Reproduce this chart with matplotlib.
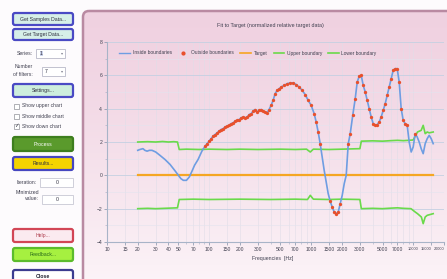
import numpy as np
import matplotlib
matplotlib.use("Agg")
import matplotlib.pyplot as plt
from matplotlib.patches import FancyBboxPatch, Rectangle
from matplotlib.lines import Line2D
from matplotlib.ticker import LogLocator, NullFormatter

plt.rcParams['font.family'] = ['Liberation Sans', 'DejaVu Sans']

# ---------------- data ----------------
freq = [20, 21, 22.5, 23.5, 24.7, 26, 27.6, 30, 33, 37, 41.5, 46, 50, 53, 56, 60, 64, 68, 72, 78,
        85, 91.4, 95.5, 100, 104.6, 109.4, 114.5, 119.8, 125.3, 131, 137, 143.5, 150, 157, 164,
        172, 180, 188, 197, 206, 215, 225, 236, 247, 258, 270, 282, 295, 309, 323, 338, 354, 370,
        387, 405, 424, 443, 464, 485, 508, 543, 582, 622, 666, 712, 762, 816, 873, 934, 1000,
        1070, 1119, 1171, 1225, 1281, 1341, 1403, 1468, 1535, 1606, 1680, 1758, 1840, 1924, 2014,
        2107, 2204, 2307, 2413, 2553, 2700, 2825, 2955, 3090, 3234, 3383, 3538, 3701, 3872, 4050,
        4237, 4433, 4637, 4851, 5075, 5309, 5554, 5810, 6078, 6358, 6652, 6959, 7280, 7615, 7966,
        8334, 8718, 9121, 9542, 9982, 10443, 10925, 11429, 11957, 12508, 13086, 13690, 14322,
        14983, 15675]
response = [1.5, 1.55, 1.6, 1.5, 1.45, 1.5, 1.5, 1.4, 1.2, 0.95, 0.65, 0.3, 0.0, -0.2, -0.3, -0.3,
            -0.1, 0.25, 0.6, 0.95, 1.45, 1.75, 1.9, 2.05, 2.2, 2.35, 2.45, 2.55, 2.65, 2.75, 2.8,
            2.9, 2.95, 3.0, 3.1, 3.15, 3.25, 3.3, 3.35, 3.45, 3.5, 3.45, 3.5, 3.65, 3.7, 3.85,
            3.95, 3.8, 3.9, 3.95, 3.85, 3.8, 3.75, 3.95, 4.2, 4.5, 4.9, 5.1, 5.2, 5.3, 5.4, 5.5,
            5.55, 5.55, 5.45, 5.3, 5.1, 4.85, 4.5, 4.2, 3.7, 3.2, 2.6, 1.9, 1.1, 0.3, -0.4, -1.1,
            -1.55, -1.9, -2.2, -2.3, -2.2, -1.7, -1.2, -0.5, 0.0, 1.9, 2.5, 3.6, 4.6, 5.6, 5.95,
            6.0, 5.4, 5.0, 4.5, 4.0, 3.5, 3.1, 3.0, 3.05, 3.2, 3.5, 3.9, 4.3, 4.8, 5.3, 5.8, 6.3,
            6.4, 6.4, 5.6, 4.0, 3.3, 3.1, 3.0, 2.0, 1.4, 1.7, 2.5, 2.3, 2.0, 1.6, 1.3, 1.9, 2.2,
            2.4, 2.2, 1.9]

upper_freq = [20, 25, 30, 35, 40, 45, 49, 51, 60, 80, 100, 150, 200, 300, 500, 700, 900, 980,
              1050, 1500, 2000, 3000, 3100, 4000, 5000, 6000, 7000, 8000, 9000, 9982, 10443,
              11000, 11957, 12508, 13086, 13690, 14322, 15675]
upper = [2.0, 2.02, 2.0, 2.03, 2.0, 2.02, 2.0, 1.55, 1.57, 1.55, 1.57, 1.55, 1.57, 1.55, 1.57,
         1.55, 1.57, 1.4, 1.57, 1.55, 1.57, 1.6, 2.05, 2.07, 2.05, 2.08, 2.1, 2.08, 2.1, 2.12,
         2.35, 2.6, 2.7, 3.0, 2.5, 2.6, 2.55, 2.6]

lower_freq = [20, 25, 30, 40, 49, 51, 70, 100, 200, 400, 700, 920, 980, 1050, 1500, 2000, 3000,
              3100, 4000, 5000, 6000, 7000, 8000, 9500, 10443, 11000, 12000, 12508, 13086, 13690,
              15675]
lower = [-2.0, -1.98, -2.0, -1.97, -1.95, -1.45, -1.43, -1.45, -1.43, -1.45, -1.43, -1.45, -1.2,
         -1.43, -1.45, -1.43, -1.45, -2.0, -1.98, -2.0, -1.97, -1.95, -1.98, -2.0, -2.2, -2.3,
         -2.5, -2.9, -2.5, -2.4, -2.3]

target_freq = [20, 15675]
target = [0, 0]

xtick_vals = [10, 15, 20, 30, 40, 50, 70, 100, 150, 200, 300, 500, 700, 1000, 1500, 2000, 3000,
              5000, 7000, 10000, 15000, 20000]
xtick_labels = [str(v) for v in xtick_vals]
ytick_vals = [-4, -2, 0, 2, 4, 6, 8]

# ---------------- figure ----------------
W, H = 447, 279
fig = plt.figure(figsize=(W / 100, H / 100), dpi=100)
fig.patch.set_facecolor('#fdfbfd')

bg = fig.add_axes([0, 0, 1, 1], zorder=0)
bg.set_xlim(0, W)
bg.set_ylim(H, 0)
bg.axis('off')

# chart panel with vertical gradient
panel = FancyBboxPatch((83, 11), 400, 300, boxstyle='round,pad=0,rounding_size=6',
                       fc='none', ec='#b98aa2', lw=1.8, zorder=3)
bg.add_patch(panel)
grad = np.linspace(0, 1, 256).reshape(-1, 1)
top_c = np.array([0.94, 0.82, 0.88])
bot_c = np.array([0.995, 0.975, 0.985])
img = top_c[None, None, :] * (1 - grad[:, :, None] ** 1.3) + bot_c[None, None, :] * (grad[:, :, None] ** 1.3)
im = bg.imshow(img, extent=[83, 483, 311, 11], aspect='auto', zorder=1, interpolation='bilinear')
im.set_clip_path(panel)
bg.set_xlim(0, W)
bg.set_ylim(H, 0)


def button(x, y, w, h, label, face, edge, tc='#303040', lw=1.6, bold=False):
    p = FancyBboxPatch((x, y), w, h, boxstyle='round,pad=0,rounding_size=2',
                       fc=face, ec=edge, lw=lw, zorder=4)
    bg.add_patch(p)
    bg.text(x + w / 2, y + h / 2 + 0.3, label, ha='center', va='center', fontsize=3.7,
            color=tc, zorder=5, fontweight='bold' if bold else 'normal')


button(13, 13, 60, 12, 'Get Samples Data...', '#d6efe8', '#4a4ac4')
button(13, 29, 60, 11, 'Get Target Data...', '#d6efe8', '#4a4ac4')
bg.text(33, 53.5, 'Series:', ha='right', va='center', fontsize=3.7, color='#404050')
bg.add_patch(Rectangle((36, 49), 29, 9, fc='white', ec='#b8b8c8', lw=0.6, zorder=4))
bg.text(40, 53.5, '1', ha='left', va='center', fontsize=3.7, color='#303040', zorder=5,
        bbox=dict(fc='#3a5ab8', ec='none', pad=0.3, alpha=0.25))
bg.text(62, 53.5, '▾', ha='center', va='center', fontsize=3, color='#808090', zorder=5)
bg.text(33, 67, 'Number', ha='right', va='center', fontsize=3.7, color='#404050')
bg.text(33, 74, 'of filters:', ha='right', va='center', fontsize=3.7, color='#404050')
bg.add_patch(Rectangle((42, 67), 23, 9, fc='white', ec='#b8b8c8', lw=0.6, zorder=4))
bg.text(45, 71.5, '7', ha='left', va='center', fontsize=3.7, color='#303040', zorder=5)
bg.text(62, 71.5, '▾', ha='center', va='center', fontsize=3, color='#808090', zorder=5)
button(13, 84, 60, 13, 'Settings...', '#cdeedd', '#4a4ac4')
for i, lab in enumerate(['Show upper chart', 'Show middle chart', 'Show down chart']):
    yy = 106 + 10 * i
    bg.add_patch(Rectangle((13.5, yy - 2.5), 5, 5, fc='white', ec='#909098', lw=0.5, zorder=4))
    bg.text(22, yy, lab, ha='left', va='center', fontsize=3.6, color='#404050')
bg.text(16, 126, '✓', ha='center', va='center', fontsize=4, color='#303040', zorder=5,
        family='DejaVu Sans')
button(13, 137, 60, 14, 'Process', '#5a9a2c', '#3e7e1e', tc='white')
button(13, 157, 60, 13, 'Results...', '#f4d400', '#4646c0')
bg.text(37, 182, 'Iteration:', ha='right', va='center', fontsize=3.7, color='#404050')
bg.add_patch(Rectangle((40, 178), 33, 9, fc='white', ec='#c8c8d4', lw=0.6, zorder=4))
bg.text(57, 182.5, '0', ha='center', va='center', fontsize=3.7, color='#303040', zorder=5)
bg.text(39, 192, 'Minimized', ha='right', va='center', fontsize=3.7, color='#404050')
bg.text(39, 199, 'value:', ha='right', va='center', fontsize=3.7, color='#404050')
bg.add_patch(Rectangle((42, 195), 31, 9, fc='white', ec='#c8c8d4', lw=0.6, zorder=4))
bg.text(57, 199.5, '0', ha='center', va='center', fontsize=3.7, color='#303040', zorder=5)
button(13, 229, 60, 13, 'Help...', '#fbeaf0', '#d24656', tc='#b04050')
button(13, 248, 60, 13, 'Feedback...', '#a6f040', '#5cbc2c', tc='#2a6a1a')
button(13, 270, 60, 13, 'Close', '#ffffff', '#3c3c90', tc='#202030', bold=True)

# ---------------- chart ----------------
x0, x1 = 107, 444
y0, y1 = 42, 242
ax = fig.add_axes([x0 / W, 1 - y1 / H, (x1 - x0) / W, (y1 - y0) / H], zorder=2)
ax.set_facecolor('none')
ax.set_xscale('log')
ax.set_xlim(10, 20000)
ax.set_ylim(-4, 8)
ax.set_xticks(xtick_vals)
ax.set_xticklabels(xtick_labels)
ax.xaxis.set_minor_locator(LogLocator(base=10, subs=np.arange(2, 10)))
ax.xaxis.set_minor_formatter(NullFormatter())
ax.set_yticks(ytick_vals)
ax.set_yticks([-3, -1, 1, 3, 5, 7], minor=True)
ax.tick_params(axis='both', which='major', labelsize=3.6, length=2, width=0.5,
               color='#8090a8', labelcolor='#404050', pad=1.5)
ax.tick_params(axis='both', which='minor', length=1.5, width=0.4, color='#a0a8c0')
lbls = ax.get_xticklabels()
for lb in lbls[-3:]:
    lb.set_fontsize(2.8)
lbls[-1].set_horizontalalignment('right')
lbls[-2].set_horizontalalignment('right')
for s in ['top', 'right']:
    ax.spines[s].set_visible(False)
for s in ['left', 'bottom']:
    ax.spines[s].set_color('#a8b4c8')
    ax.spines[s].set_linewidth(0.8)
ax.grid(True, axis='y', which='major', color='#c4d0e2', lw=0.6)
ax.grid(True, axis='y', which='minor', color='#e2e4ee', lw=0.4)
ax.grid(True, axis='x', which='both', color='#e0dde8', lw=0.4)
ax.set_axisbelow(True)

f = np.array(freq)
r = np.array(response)
up_i = np.interp(np.log10(f), np.log10(upper_freq), upper)
lo_i = np.interp(np.log10(f), np.log10(lower_freq), lower)
outside = (r > up_i) | (r < lo_i)

ax.plot(target_freq, target, color='#f5a623', lw=1.6, zorder=3)
ax.plot(upper_freq, upper, color='#6ada4a', lw=1.2, zorder=3)
ax.plot(lower_freq, lower, color='#6ada4a', lw=1.2, zorder=3)
ax.plot(f, r, color='#6e9de2', lw=1.2, zorder=4)
ax.plot(f[outside], r[outside], ls='none', marker='o', ms=2.4, mfc='#e8502c', mec='#e8502c',
        mew=0, zorder=5)

handles = [
    Line2D([], [], color='#6e9de2', lw=1.0),
    Line2D([], [], ls='none', marker='o', ms=2.0, color='#e8502c'),
    Line2D([], [], color='#f5a623', lw=1.2),
    Line2D([], [], color='#6ada4a', lw=1.2),
    Line2D([], [], color='#6ada4a', lw=1.2),
]
labels = ['Inside boundaries', 'Outside boundaries', 'Target', 'Upper boundary', 'Lower boundary']
fig.legend(handles, labels, loc='center left', bbox_to_anchor=(117 / W, 1 - 53 / H), ncol=5,
           frameon=False, fontsize=3.5, handlelength=2.2, columnspacing=1.3,
           handletextpad=0.5, borderpad=0, labelcolor='#404050')

fig.text(270 / W, 1 - 25 / H, 'Fit to Target (normalized relative target data)', ha='center',
         va='center', fontsize=3.9, color='#404050')
fig.text(273 / W, 1 - 258.5 / H, 'Frequencies  [Hz]', ha='center', va='center', fontsize=3.8,
         color='#404050')

fig.savefig('out.png', dpi=100, facecolor=fig.get_facecolor())
